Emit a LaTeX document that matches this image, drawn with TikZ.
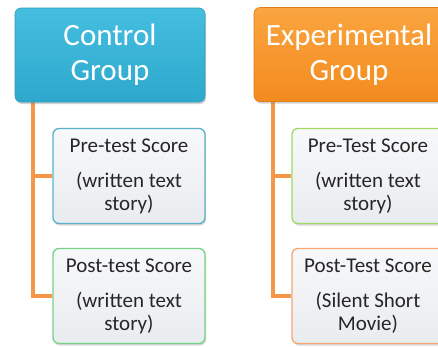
\documentclass[tikz,border=0pt]{standalone}
\usepackage{fontspec}
\setmainfont{Carlito}
\usetikzlibrary{shadows,calc}
\definecolor{ctrlA}{HTML}{45BEE0}
\definecolor{ctrlB}{HTML}{2DA8CC}
\definecolor{ctrlD}{HTML}{2B9DBD}
\definecolor{expA}{HTML}{FAA540}
\definecolor{expB}{HTML}{F38B1E}
\definecolor{expD}{HTML}{E07E18}
\definecolor{conn}{HTML}{F79646}
\definecolor{boxA}{HTML}{F7F8FA}
\definecolor{boxB}{HTML}{E9ECEF}
\definecolor{bBlue}{HTML}{5BB0CC}
\definecolor{bGreen}{HTML}{74D385}
\definecolor{bLime}{HTML}{A2D86A}
\definecolor{bOrange}{HTML}{F5A66E}
\tikzset{
  headbox/.style={rectangle, rounded corners=6pt, minimum width=190pt, minimum height=94pt,
    text=white, font=\fontsize{31}{35}\selectfont, align=center, inner sep=0pt,
    drop shadow={shadow xshift=1pt, shadow yshift=-2pt, opacity=0.35}},
  subbox/.style={rectangle, rounded corners=6pt, minimum width=152pt, minimum height=95pt,
    draw, line width=1.3pt, top color=boxA, bottom color=boxB, text=black!85,
    font=\fontsize{21}{23}\selectfont, align=center, inner sep=0pt,
    drop shadow={shadow xshift=1pt, shadow yshift=-2pt, opacity=0.3}},
  connline/.style={draw=conn, line width=3.8pt}
}
\begin{document}
\begin{tikzpicture}[x=1pt,y=-1pt]
\useasboundingbox (0,0) rectangle (438,346);
\clip (0,0) rectangle (438,346);
\fill[white] (0,0) rectangle (438,346);
% connectors
\coordinate (c1) at (33,100);
\coordinate (c2) at (273,100);
\node[subbox, draw=bBlue] (pre1) at (129,176) {Pre-test Score\\[12pt](written text\\story)};
\node[subbox, draw=bGreen] (post1) at (129,296) {Post-test Score\\[12pt](written text\\story)};
\node[subbox, draw=bLime] (pre2) at (368,176) {Pre-Test Score\\[12pt](written text\\story)};
\node[subbox, draw=bOrange] (post2) at (368,296) {Post-Test Score\\[12pt](Silent Short\\Movie)};
\draw[connline] (c1) |- (pre1.west);
\draw[connline] (c1) |- (post1.west);
\draw[connline] (c2) |- (pre2.west);
\draw[connline] (c2) |- (post2.west);
\node[headbox, top color=ctrlA, bottom color=ctrlB, draw=ctrlD, line width=0.6pt] (ctrl) at (110,55) {Control\\Group};
\node[headbox, top color=expA, bottom color=expB, draw=expD, line width=0.6pt] (exp) at (349,54.5) {Experimental\\Group};
\end{tikzpicture}
\end{document}
